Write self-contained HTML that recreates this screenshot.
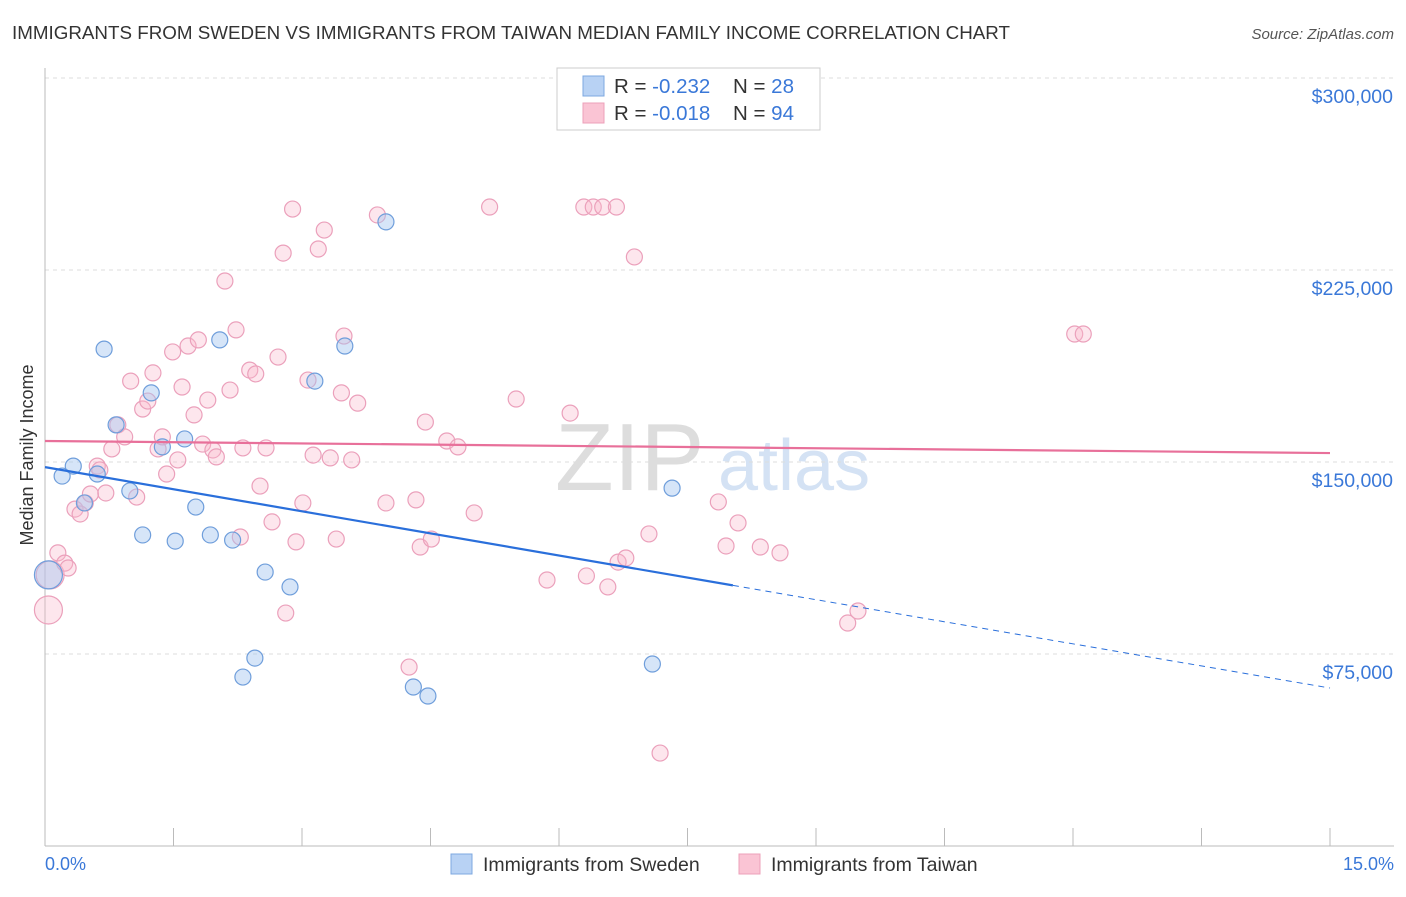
<!DOCTYPE html>
<html><head><meta charset="utf-8"><style>
body{margin:0;background:#fff;font-family:"Liberation Sans",sans-serif}
svg text{font-family:"Liberation Sans",sans-serif}
</style></head><body>
<svg id="chart" width="1406" height="892">
<text x="12" y="39" font-size="18" fill="#333" textLength="998" lengthAdjust="spacingAndGlyphs">IMMIGRANTS FROM SWEDEN VS IMMIGRANTS FROM TAIWAN MEDIAN FAMILY INCOME CORRELATION CHART</text>
<text x="1394" y="39" font-size="15" fill="#555" font-style="italic" text-anchor="end">Source: ZipAtlas.com</text>
<text x="33" y="455" font-size="18" fill="#333" text-anchor="middle" transform="rotate(-90 33 455)">Median Family Income</text>
<text x="555" y="490" font-size="96" fill="#ddd" font-family="Liberation Serif">ZIP</text>
<text x="718" y="490" font-size="72" fill="#d4e2f4">atlas</text>
<g id="grid"></g><g id="axes"></g>
<g id="pink-pts"></g><g id="blue-pts"></g><g id="lines"></g>
<g>
<rect x="557" y="68" width="263" height="62" fill="#fff" stroke="#ccc"/>
<rect x="583" y="76" width="21" height="20" fill="#b8d2f4" stroke="#7ea8e0"/>
<rect x="583" y="103" width="21" height="20" fill="#fac4d4" stroke="#eca0ba"/>
<text x="614" y="93" font-size="20.5" fill="#333">R = <tspan fill="#3a78d8">-0.232</tspan></text>
<text x="733" y="93" font-size="20.5" fill="#333">N = <tspan fill="#3a78d8">28</tspan></text>
<text x="614" y="120" font-size="20.5" fill="#333">R = <tspan fill="#3a78d8">-0.018</tspan></text>
<text x="733" y="120" font-size="20.5" fill="#333">N = <tspan fill="#3a78d8">94</tspan></text>
</g>
<g>
<rect x="451" y="854" width="21" height="20" fill="#b8d2f4" stroke="#7ea8e0"/>
<text x="483" y="871" font-size="19.5" fill="#333">Immigrants from Sweden</text>
<rect x="739" y="854" width="21" height="20" fill="#fac4d4" stroke="#eca0ba"/>
<text x="771" y="871" font-size="19.5" fill="#333">Immigrants from Taiwan</text>
</g>
<text x="45" y="870" font-size="18" fill="#3a78d8">0.0%</text>
<text x="1394" y="870" font-size="18" fill="#3a78d8" text-anchor="end">15.0%</text>
</svg>
<script>
const yTicks=[75000,150000,225000,300000];
const yTickLabels=["$75,000","$150,000","$225,000","$300,000"];
const swedenX=[0.04,0.20,0.33,0.46,0.61,0.69,0.83,0.99,1.14,1.24,1.37,1.52,1.63,1.76,1.93,2.04,2.19,2.31,2.45,2.57,2.86,3.15,3.50,3.98,4.30,4.47,7.09,7.32];
const swedenY=[105.9,144.5,148.4,134.0,145.3,194.1,164.5,138.7,121.5,177.0,155.9,119.1,159.0,132.4,121.5,197.7,119.5,66.0,73.4,107.0,101.2,181.6,195.3,243.8,62.1,58.6,71.1,139.8];
const taiwanX=[0.04,0.06,0.15,0.23,0.27,0.35,0.41,0.47,0.53,0.61,0.64,0.71,0.78,0.85,0.93,1.00,1.07,1.14,1.20,1.26,1.32,1.37,1.42,1.49,1.55,1.60,1.67,1.74,1.79,1.84,1.90,1.96,2.00,2.10,2.16,2.23,2.28,2.31,2.39,2.46,2.51,2.58,2.65,2.72,2.78,2.81,2.89,2.93,3.01,3.07,3.13,3.19,3.26,3.33,3.40,3.46,3.49,3.58,3.65,3.88,3.98,4.25,4.33,4.38,4.44,4.51,4.69,4.82,5.01,5.19,5.50,5.86,6.13,6.29,6.32,6.40,6.51,6.57,6.67,6.69,6.78,6.88,7.05,7.18,7.86,7.95,8.09,8.35,8.58,9.37,9.49,12.02,12.12];
const taiwanY=[92.2,105.9,114.5,110.5,108.6,131.6,129.7,134.0,137.5,148.4,146.9,137.9,155.1,164.5,159.8,181.6,136.3,170.7,173.8,184.8,155.1,159.8,145.3,193.0,150.8,179.3,195.3,168.4,197.7,157.0,174.2,154.7,152.0,220.7,178.1,201.6,120.7,155.5,185.9,184.4,140.6,155.5,126.6,191.0,231.6,91.0,248.8,118.8,134.0,182.0,152.7,233.2,240.6,151.6,119.9,177.0,199.2,150.8,173.0,246.5,134.0,69.9,135.2,116.8,165.6,119.9,158.2,155.9,130.1,249.6,174.6,103.9,169.1,249.6,105.5,249.6,249.6,101.2,249.6,110.9,112.5,230.1,121.9,36.3,134.4,117.2,126.2,116.8,114.5,87.1,91.8,200.0,200.0];
const swedenTrend=[148.0,61.7];
const taiwanTrend=[158.2,153.5];
const swedenSolidEnd=8.03;

const NS="http://www.w3.org/2000/svg";
const X=p=>45+p/15*1285;
const Y=v=>846-v/75000*192;
function mk(tag,parent,at){const e=document.createElementNS(NS,tag);for(const k in at)e.setAttribute(k,at[k]);parent.appendChild(e);return e;}
const grid=document.getElementById('grid'),axes=document.getElementById('axes');
yTicks.forEach((t,i)=>{
  const l=mk('line',grid,{x1:45,x2:1394,y1:Y(t),y2:Y(t),stroke:'#ddd','stroke-dasharray':'4 4'});
  
  
  const tx=mk('text',grid,{x:1393,y:Y(t)+25,'font-size':19.5,fill:'#3a78d8','text-anchor':'end'});
  tx.textContent=yTickLabels[i];
  
  
});
const xa=mk('line',axes,{x1:45,x2:1394,y1:846,y2:846,stroke:'#bbb'});


const ya=mk('line',axes,{x1:45,x2:45,y1:68,y2:846,stroke:'#bbb'});


for(let i=0;i<=10;i++){
  const t=mk('line',axes,{x1:X(i*1.5),x2:X(i*1.5),y1:828,y2:846,stroke:'#bbb'});
  
  
}
function pts(g,xs,ys,fill,stroke,name){
  xs.forEach((x,i)=>{
    const r=(i<2&&name==='taiwan-point')||(i===0&&name==='sweden-point')?14:8;
    const c=mk('circle',g,{cx:X(x),cy:Y(ys[i]*1000),r:r,fill:fill,stroke:stroke,'stroke-width':1.2});
    
    
  });
}
pts(document.getElementById('pink-pts'),taiwanX,taiwanY,'rgba(248,182,204,0.35)','#eba0bb','taiwan-point');
pts(document.getElementById('blue-pts'),swedenX,swedenY,'rgba(164,198,240,0.45)','#6f9edb','sweden-point');
const lg=document.getElementById('lines');
const pl=mk('line',lg,{x1:X(0),y1:Y(taiwanTrend[0]*1000),x2:X(15),y2:Y(taiwanTrend[1]*1000),stroke:'#e8709a','stroke-width':2.2});


const bAt=p=>swedenTrend[0]+(swedenTrend[1]-swedenTrend[0])*p/15;
const bl=mk('line',lg,{x1:X(0),y1:Y(bAt(0)*1000),x2:X(swedenSolidEnd),y2:Y(bAt(swedenSolidEnd)*1000),stroke:'#2a6fdb','stroke-width':2.2});


const bd=mk('line',lg,{x1:X(swedenSolidEnd),y1:Y(bAt(swedenSolidEnd)*1000),x2:X(15),y2:Y(bAt(15)*1000),stroke:'#2a6fdb','stroke-width':1,'stroke-dasharray':'6 5'});


</script>
</body></html>
